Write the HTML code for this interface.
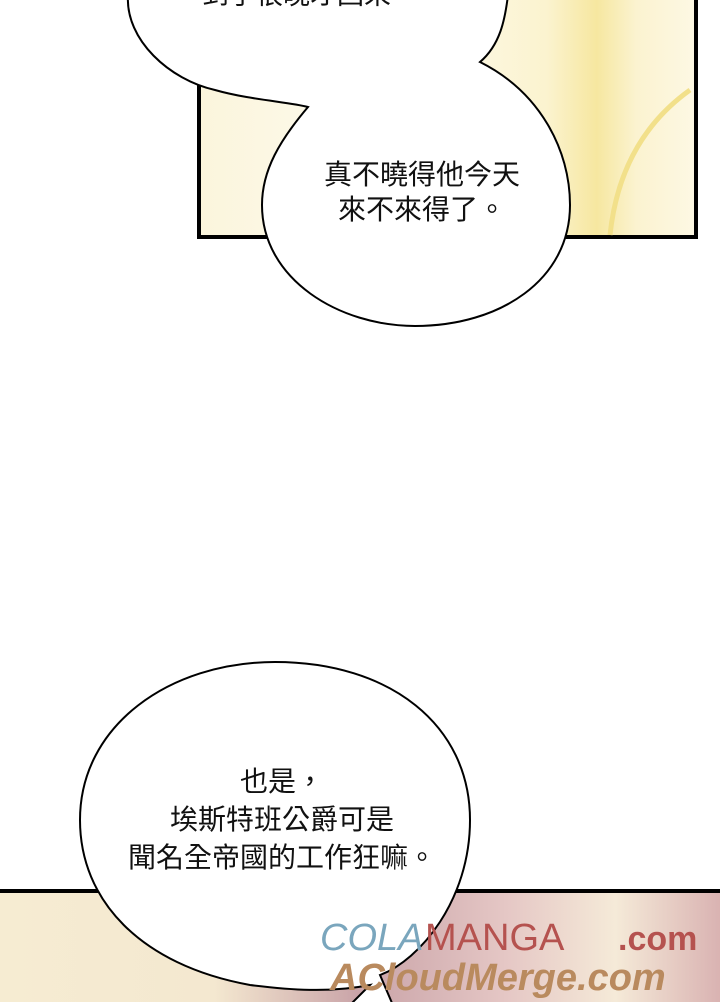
<!DOCTYPE html>
<html><head><meta charset="utf-8"><style>
html,body{margin:0;padding:0;background:#fff;width:720px;height:1002px;overflow:hidden}
svg{display:block}
text{font-family:"Liberation Sans","Noto Sans CJK TC",sans-serif;fill:#111}
</style></head><body>
<svg width="720" height="1002" viewBox="0 0 720 1002" xmlns="http://www.w3.org/2000/svg">
<defs>
<linearGradient id="p1" x1="0" x2="1" y1="0" y2="0">
<stop offset="0" stop-color="#fbf5dc"/><stop offset="0.4" stop-color="#fdfbf0"/><stop offset="0.7" stop-color="#fbf3cf"/><stop offset="0.8" stop-color="#f6e7a0"/><stop offset="0.88" stop-color="#fbf3d0"/><stop offset="1" stop-color="#fdf8e4"/>
</linearGradient>
<linearGradient id="p2" x1="0" x2="1" y1="0" y2="0">
<stop offset="0" stop-color="#f6ecd2"/><stop offset="0.3" stop-color="#f4e8d0"/><stop offset="0.5" stop-color="#c9a3a8"/><stop offset="0.7" stop-color="#e5c7c5"/><stop offset="0.85" stop-color="#f5ead8"/><stop offset="1" stop-color="#d8b0b0"/>
</linearGradient>
</defs>
<rect x="199" y="-5" width="497" height="242" fill="url(#p1)" stroke="#000" stroke-width="4"/>
<path d="M610 235 Q620 140 690 90" stroke="#f2e08a" stroke-width="5" fill="none"/>
<path d="M128 -5 C125 40 170 80 215 90 C250 100 290 102 308 107 C280 140 262 170 262 205 C262 280 340 326 415 326 C500 326 570 280 570 205 C570 150 540 92 480 62 C500 45 505 20 508 -5 Z" fill="#fff" stroke="#000" stroke-width="2"/>
<text x="310" y="4" font-size="27" text-anchor="middle">到了很晚才回來。</text>
<text x="422" y="184" font-size="28" text-anchor="middle">真不曉得他今天</text>
<text x="422" y="219" font-size="28" text-anchor="middle">來不來得了。</text>
<rect x="-5" y="891" width="730" height="120" fill="url(#p2)" stroke="#000" stroke-width="4"/>
<path d="M370 985 C330 993 290 990 250 985 C140 965 80 900 80 820 C80 725 170 662 275 662 C390 662 470 725 470 820 C470 900 420 960 380 975 L395 1010 L345 1010 Z" fill="#fff" stroke="#000" stroke-width="2"/>
<text x="282" y="791" font-size="28" text-anchor="middle">也是，</text>
<text x="282" y="829" font-size="28" text-anchor="middle">埃斯特班公爵可是</text>
<text x="282" y="867" font-size="28" text-anchor="middle">聞名全帝國的工作狂嘛。</text>
<text x="320" y="950" font-size="38" font-family="Liberation Serif" font-style="italic" style="fill:#7aa6bd">COLA</text>
<text x="425" y="950" font-size="38" font-family="Liberation Serif" style="fill:#b5524f">MANGA</text>
<text x="618" y="950" font-size="34" font-weight="bold" style="fill:#b5524f">.com</text>
<text x="330" y="990" font-size="38" font-weight="bold" font-style="italic" style="fill:#b98a5e">ACloudMerge.com</text>
</svg>
</body></html>
